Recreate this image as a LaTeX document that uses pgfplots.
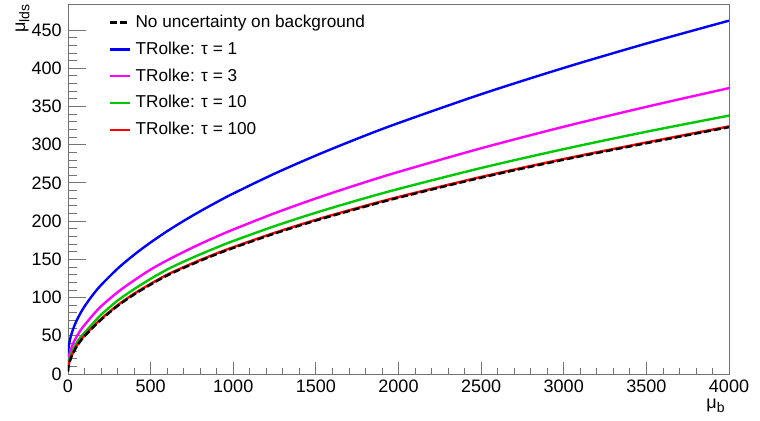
\documentclass[border=0pt]{standalone}
\usepackage{pgfplots}
\usepackage{pgfplotstable}
\pgfplotsset{compat=1.18}
\usepackage{fontspec}
\setmainfont{Liberation Sans}

\pgfplotstableread{
b     black red   green magenta blue
0     3     4     8     14      22
1     7     8     11    17      28.6
3     10    11    14    20      33.4
5     12    13    17    22      36.7
10    16    17    21    27      42.9
20    22    23    27    34      51.5
35    29    30    34    42      61.1
50    35    36    40    48      68.8
75    43    44    48    57      79.4
100   49.5  50.5  54    64      88.4
150   60.5  61.5  66    77      103.5
200   71    72    77.5  88.5    116.3
300   89    90    96    107     137.8
400   104   105   111   122.5   156
500   117   118   124.5 136.7   172.1
600   128.9 129.9 136.7 148.7   186.8
700   138.8 139.8 147.0 159.7   200.3
800   148.1 149.1 156.5 170.1   212.9
900   156.8 157.8 165.5 179.8   224.8
1000  164.9 165.9 174.0 189.0   236.1
1250  183.7 184.7 193.4 210.3   262.1
1500  200.7 201.7 211.0 229.7   285.8
1750  216.1 217.1 227.1 247.6   307.8
2000  230.6 231.6 242.1 264.4   328.3
2500  256.8 257.8 269.5 295.3   366.0
3000  280.3 281.3 294.2 323.5   400.4
3500  301.9 302.9 316.9 349.5   432.3
4000  322.9 323.9 338.0 374.0   462.2
}\datatable

\definecolor{rgreen}{RGB}{0,200,0}
\definecolor{rmagenta}{RGB}{255,0,255}
\definecolor{rblue}{RGB}{0,0,255}
\definecolor{rred}{RGB}{255,0,0}

\begin{document}
\fontsize{9}{11}\selectfont
\begin{tikzpicture}
\useasboundingbox (-34pt,-23pt) rectangle (346pt,187pt);
\pgfplotsset{every axis/.append style={
  scale only axis, width=330.5pt, height=185pt,
  xmin=0, xmax=4000, ymin=0, ymax=484,
  at={(0,0)}, anchor=south west,
  font=\fontsize{9}{11}\selectfont,
  /pgf/number format/assume math mode=true,
  /pgf/number format/1000 sep={},
  tick align=inside,
  every tick/.style={black!55},
}}
% x ticks
\begin{axis}[
  axis line style={draw=none},
  ytick=\empty,
  xtick={0,500,...,4000}, minor x tick num=4,
  xtick pos=bottom,
  major tick length=6pt, minor tick length=3pt,
  xlabel={μ\raisebox{-0.45ex}{\fontsize{7}{8}\selectfont b}},
  xlabel style={at={(axis description cs:0.994,-0.066)}, anchor=north east, inner sep=0pt},
]
\addplot[draw=none] coordinates {(0,0)};
\end{axis}
% main
\begin{axis}[
  axis line style={black!55},
  xtick=\empty,
  ytick={0,50,...,450}, minor y tick num=4,
  ytick pos=left,
  major tick length=9pt, minor tick length=4.5pt,
  ylabel={μ\raisebox{-0.45ex}{\fontsize{7}{8}\selectfont lds}},
  ylabel style={at={(axis description cs:-0.0575,1)}, anchor=south east, inner sep=0pt},
  legend style={draw=none, fill=none, at={(axis description cs:0.052,0.998)}, anchor=north west,
    nodes={text height=7pt, text depth=2pt, inner sep=2.2pt}, row sep=0pt,
    font=\fontsize{8.6}{10.5}\selectfont},
  legend cell align=left,
  legend image code/.code={\draw[#1] (0pt,0pt) -- (10pt,0pt);},
]
\addlegendimage{black, line width=1.2pt, dash pattern=on 3.5pt off 1.5pt}
\addlegendentry{No uncertainty on background}
\addlegendimage{rblue, line width=1.2pt}
\addlegendentry{TRolke: τ = 1}
\addlegendimage{rmagenta, line width=1.2pt}
\addlegendentry{TRolke: τ = 3}
\addlegendimage{rgreen, line width=1.2pt}
\addlegendentry{TRolke: τ = 10}
\addlegendimage{rred, line width=1.2pt}
\addlegendentry{TRolke: τ = 100}

\addplot[rblue, line width=1.2pt, smooth, forget plot] table[x=b, y=blue] {\datatable};
\addplot[rmagenta, line width=1.2pt, smooth, forget plot] table[x=b, y=magenta] {\datatable};
\addplot[rgreen, line width=1.2pt, smooth, forget plot] table[x=b, y=green] {\datatable};
\addplot[rred, line width=1.2pt, smooth, forget plot] table[x=b, y=red] {\datatable};
\addplot[black, line width=1.2pt, dash pattern=on 3.5pt off 1.5pt, smooth, forget plot] table[x=b, y=black] {\datatable};
\end{axis}
\end{tikzpicture}
\end{document}
